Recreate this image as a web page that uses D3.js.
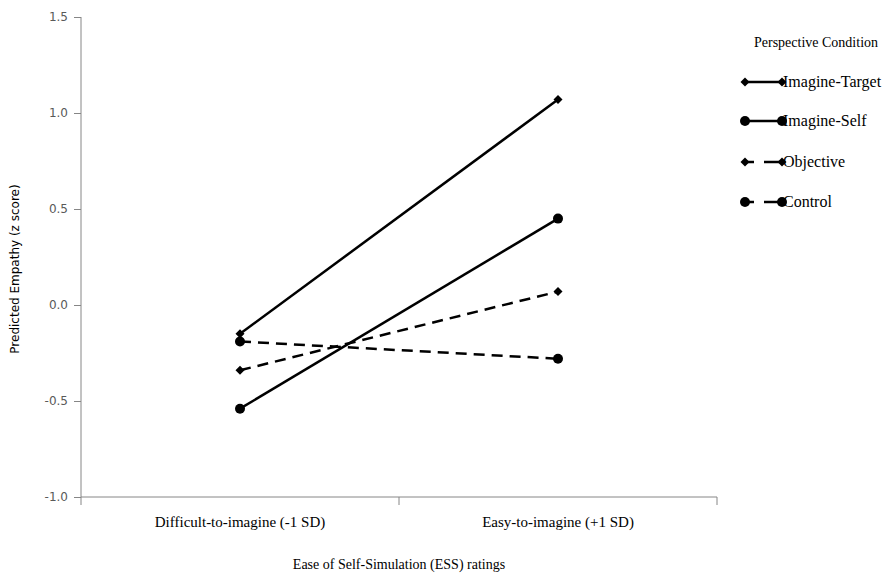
<!DOCTYPE html>
<html>
<head>
<meta charset="utf-8">
<script src="https://cdn.jsdelivr.net/npm/d3@7/dist/d3.min.js"></script>
<style>
  html, body { margin: 0; padding: 0; background: #fff; }
  svg { display: block; }
</style>
</head>
<body>
<svg id="chart" width="894" height="578"></svg>
<script>
// Predicted empathy by ease of self-simulation, per perspective condition
const categories = ["Difficult-to-imagine (-1 SD)", "Easy-to-imagine (+1 SD)"];
const seriesNames = ["Imagine-Target", "Imagine-Self", "Objective", "Control"];
const imagineTarget = [-0.15, 1.07];
const imagineSelf = [-0.54, 0.45];
const objective = [-0.34, 0.07];
const control = [-0.19, -0.28];
const yTicks = [-1.0, -0.5, 0.0, 0.5, 1.0, 1.5];

const seriesValues = [imagineTarget, imagineSelf, objective, control];
const markerShapes = ["diamond", "circle", "diamond", "circle"];
const dashed = [false, false, true, true];

const svg = d3.select("#chart");
const plotLeft = 81, plotRight = 717, plotTop = 17, plotBottom = 497;

const x = d3.scaleBand().domain(categories).range([plotLeft, plotRight]).padding(0);
const y = d3.scaleLinear().domain([-1.0, 1.5]).range([plotBottom, plotTop]);

const axisColor = "#868686";
const serif = "Liberation Serif, Times New Roman, serif";
const sans = "DejaVu Sans, Tahoma, sans-serif";

// Y axis
const yAxis = svg.append("g")
  .attr("transform", `translate(${plotLeft},0)`)
  .call(d3.axisLeft(y).tickValues(yTicks).tickSize(7).tickPadding(6));
yAxis.attr("font-family", sans).attr("font-size", 12);
yAxis.select(".domain").attr("stroke", axisColor).attr("d", `M0,${plotTop}V${plotBottom + 8}`);
yAxis.selectAll(".tick line").attr("stroke", axisColor);
yAxis.selectAll(".tick text")
  .attr("fill", "#595959")
  .text(d => d.toFixed(1));

// X axis
const xAxis = svg.append("g")
  .attr("transform", `translate(0,${plotBottom})`)
  .call(d3.axisBottom(x).tickSize(0).tickPadding(19));
xAxis.attr("font-family", serif).attr("font-size", 15);
xAxis.select(".domain").attr("stroke", axisColor).attr("d", `M${plotLeft},0H${plotRight}V8`);
xAxis.selectAll(".tick text").attr("fill", "#000");
// category separators
xAxis.selectAll(".sep")
  .data(categories.slice(1))
  .enter().append("line")
  .attr("class", "sep")
  .attr("x1", d => x(d)).attr("x2", d => x(d))
  .attr("y1", 0).attr("y2", 8)
  .attr("stroke", axisColor);

// Axis titles
svg.append("text")
  .attr("transform", `translate(19,${(plotTop + plotBottom) / 2 + 12}) rotate(-90)`)
  .attr("text-anchor", "middle")
  .attr("font-family", sans)
  .attr("font-size", 12)
  .attr("fill", "#000")
  .text("Predicted Empathy (z score)");

svg.append("text")
  .attr("x", (plotLeft + plotRight) / 2)
  .attr("y", 569)
  .attr("text-anchor", "middle")
  .attr("font-family", serif)
  .attr("font-size", 14)
  .attr("fill", "#000")
  .text("Ease of Self-Simulation (ESS) ratings");

// Marker symbols: square rotated 45deg for diamonds, filled circles
function marker(g, shape, cx, cy) {
  if (shape === "diamond") {
    g.append("path")
      .attr("d", "M0,-4.5L4.5,0L0,4.5L-4.5,0Z")
      .attr("transform", `translate(${cx},${cy})`)
      .attr("fill", "#000");
  } else {
    g.append("circle")
      .attr("cx", cx).attr("cy", cy).attr("r", 5)
      .attr("fill", "#000");
  }
}

const line = d3.line()
  .x((d, i) => x(categories[i]) + x.bandwidth() / 2)
  .y(d => y(d));

// Series lines
seriesValues.forEach((vals, k) => {
  const g = svg.append("g");
  g.append("path")
    .datum(vals)
    .attr("d", line)
    .attr("fill", "none")
    .attr("stroke", "#000")
    .attr("stroke-width", 2.5)
    .attr("stroke-dasharray", dashed[k] ? "11,7" : null);
  vals.forEach((v, i) => marker(g, markerShapes[k], x(categories[i]) + x.bandwidth() / 2, y(v)));
});

// Legend
const legend = svg.append("g").attr("font-family", serif).attr("fill", "#000");
legend.append("text")
  .attr("x", 754).attr("y", 47)
  .attr("font-size", 14)
  .text("Perspective Condition");

const legendY = [82, 121, 162, 202];
seriesNames.forEach((name, k) => {
  const ly = legendY[k];
  const g = legend.append("g");
  g.append("line")
    .attr("x1", 745).attr("x2", 782)
    .attr("y1", ly).attr("y2", ly)
    .attr("stroke", "#000")
    .attr("stroke-width", 2.5)
    .attr("stroke-dasharray", dashed[k] ? "9,10,18" : null);
  marker(g, markerShapes[k], 745, ly);
  marker(g, markerShapes[k], 782, ly);
  g.append("text")
    .attr("x", 783).attr("y", ly + 5)
    .attr("font-size", 16)
    .text(name);
});
</script>
</body>
</html>
